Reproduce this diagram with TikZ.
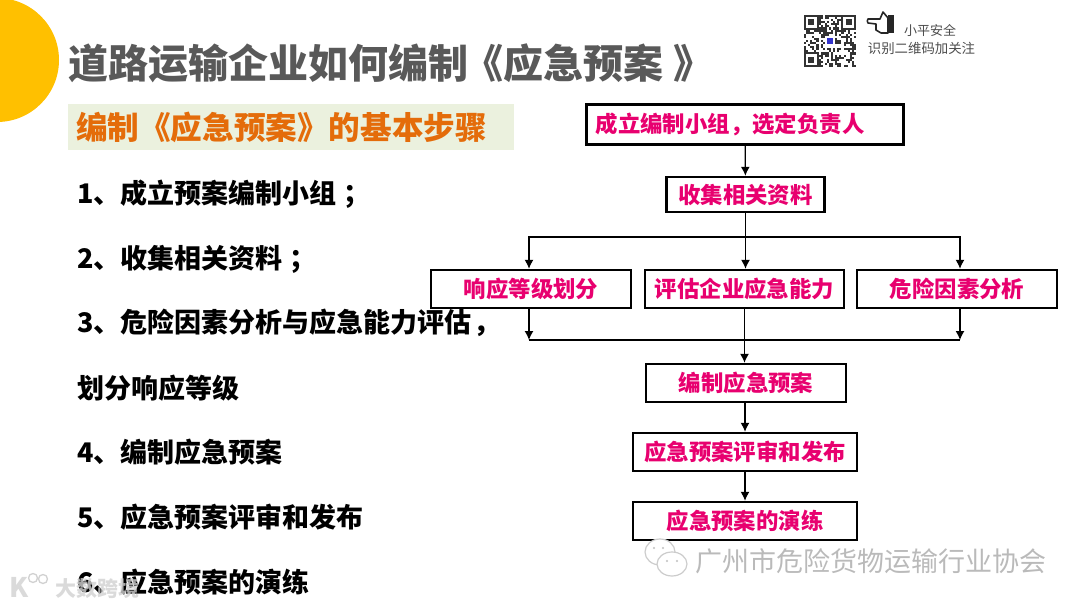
\documentclass[tikz,border=0pt]{standalone}
\usepackage{fontspec}
\setmainfont{Noto Sans CJK SC}
\usepackage{xcolor}
\usetikzlibrary{calc}
\usetikzlibrary{arrows.meta}
\definecolor{titlegray}{HTML}{595959}
\definecolor{stepband}{HTML}{EBF1DE}
\definecolor{steporange}{HTML}{E46C0A}
\definecolor{boxpink}{HTML}{E8006F}
\definecolor{sunyellow}{HTML}{FFC000}
\tikzset{
    stepitem/.style={anchor=west,inner sep=0pt,font=\fontsize{27}{27}\selectfont\bfseries,text=black},
    flowbox/.style={draw=black,line width=2.4pt,fill=white,inner sep=0pt,font=\fontsize{22.4}{22.4}\selectfont\bfseries,text=boxpink},
    link/.style={draw=black,line width=1.3pt},
    arrow/.style={link,-{Latex[length=9pt,width=9pt]}},
}
\begin{document}
\begin{tikzpicture}[x=1pt,y=-1pt]
    \useasboundingbox (0,0) rectangle (1080,608);
    \begin{scope}
        \clip (0,0) rectangle (1080,608);
        \fill[sunyellow] (-3,60) circle (62);
    \end{scope}

    % heading
    \node[anchor=west,inner sep=0pt,text=titlegray,font=\fontsize{40}{40}\selectfont\bfseries] (title) at (68,63) {道路运输企业如何编制\hspace{-5pt}《应急预案\hspace{10pt}》};
    \fill[stepband] (68,104) rectangle (514,150);
    \node[anchor=west,inner sep=0pt,text=steporange,font=\fontsize{31.6}{32}\selectfont\bfseries] (subtitle) at (76,127) {编制《应急预案》的基本步骤};

    % list on the left
    \node[stepitem] (item1) at (77,194) {1、成立预案编制小组\hspace{7pt}；};
    \node[stepitem] (item2) at (77,259) {2、收集相关资料\hspace{7pt}；};
    \node[stepitem] (item3) at (77,323) {3、危险因素分析与应急能力评估\hspace{2pt}，};
    \node[stepitem] (item3b) at (77,388) {划分响应等级};
    \node[stepitem] (item4) at (77,452) {4、编制应急预案};
    \node[stepitem] (item5) at (77,517) {5、应急预案评审和发布};
    \node[stepitem] (item6) at (77,582) {6、应急预案的演练};

    % flow chart
    \node[flowbox,minimum width=317pt,minimum height=40pt] (group) at (745,124.5) {成立编制小组，选定负责人\hspace*{30pt}\null};
    \node[flowbox,minimum width=158pt,minimum height=35pt] (collect) at (745.5,194.5) {收集相关资料};
    \node[flowbox,minimum width=200pt,minimum height=38pt] (level) at (531,289) {响应等级划分};
    \node[flowbox,minimum width=199pt,minimum height=38pt] (ability) at (744.5,289) {评估企业应急能力};
    \node[flowbox,minimum width=200pt,minimum height=38pt] (hazard) at (957,289) {危险因素分析};
    \node[flowbox,minimum width=200pt,minimum height=38pt] (plan) at (746,383) {编制应急预案};
    \node[flowbox,minimum width=224pt,minimum height=38pt] (review) at (745,452) {应急预案评审和发布};
    \node[flowbox,minimum width=224pt,minimum height=38pt] (drill) at (745,521) {应急预案的演练};

    \coordinate (splitc) at (745.5,237);
    \coordinate (mergel) at (529,340);
    \coordinate (merger) at (960,340);

    \draw[arrow] (group) -- (collect);
    \draw[arrow] (collect) -- (collect |- ability.north);
    \draw[arrow] (splitc) -| ([xshift=-2pt]level.north);
    \draw[arrow] (splitc) -| ([xshift=3pt]hazard.north);
    \draw[arrow] ([xshift=-2pt]level.south) -- (mergel);
    \draw[arrow] ([xshift=3pt]hazard.south) -- (merger);
    \draw[link] (mergel) -- (merger);
    \draw[arrow] (ability.south) -- (ability.south |- plan.north);
    \draw[arrow] (plan.south -| review.north) -- (review.north);
    \draw[arrow] (review) -- (drill);

    % code and hand at the top right
    \pgfmathsetseed{11}
    \foreach \i in {0,...,24}{
        \foreach \j in {0,...,24}{
            \pgfmathparse{rnd>0.52?1:0}
            \ifnum\pgfmathresult=1
                \fill[black!80] (804+2.08*\i,15+2.08*\j) rectangle ++(2.08,2.08);
            \fi
        }
    }
    \foreach \cx/\cy in {804/15,841.4/15,804/52.4}{
        \fill[white] (\cx,\cy) rectangle ++(14.6,14.6);
        \draw[black!80,line width=2pt] (\cx+1,\cy+1) rectangle ++(12.6,12.6);
        \fill[black!80] (\cx+4.2,\cy+4.2) rectangle ++(6.2,6.2);
    }
    \fill[white] (825,36) rectangle ++(10,10);
    \fill[blue!60!gray] (827,38) rectangle ++(6,6);
    \fill[black!85] (888,15) rectangle (894,33);
    \draw[black!85,line width=1.6pt,line join=round,fill=white] (888,18) -- (883,12) -- (880,19) -- (868,19) to[bend right=40] (868,23) -- (876,24) -- (876,30) -- (881,33) -- (888,33) -- cycle;

    \node[inner sep=0pt,text=black!70,font=\fontsize{13}{13}\selectfont] (follow1) at (930,30) {小平安全};
    \node[inner sep=0pt,text=black!70,font=\fontsize{13.4}{14}\selectfont] (follow2) at (921.5,48) {识别二维码加关注};

    % marks of the publishers
    \node[anchor=west,inner sep=0pt,text=black!27,font=\fontsize{27}{27}\selectfont] (assoc) at (695,561) {广州市危险货物运输行业协会};
    \draw[black!20,line width=1.2pt,fill=white] (660,552) ellipse (15 and 13);
    \draw[black!20,line width=1.2pt,fill=white] (672,564) ellipse (15 and 12);
    \foreach \ex/\ey in {654/548,663/548,667/561,677/561}{
        \fill[black!25] (\ex,\ey) circle (1.2);
    }
    \node[anchor=west,inner sep=0pt,text=black!18,opacity=.8,font=\fontsize{21}{21}\selectfont\bfseries] (mark) at (55,588) {大数跨境};
    \node[anchor=west,inner sep=0pt,text=black!18,opacity=.8,font=\fontsize{27}{27}\selectfont\bfseries] (logo) at (9,587) {K};
    \draw[black!18,line width=1.3pt] (33,578) circle (4.5) (43,579) circle (4.5);
\end{tikzpicture}
\end{document}
